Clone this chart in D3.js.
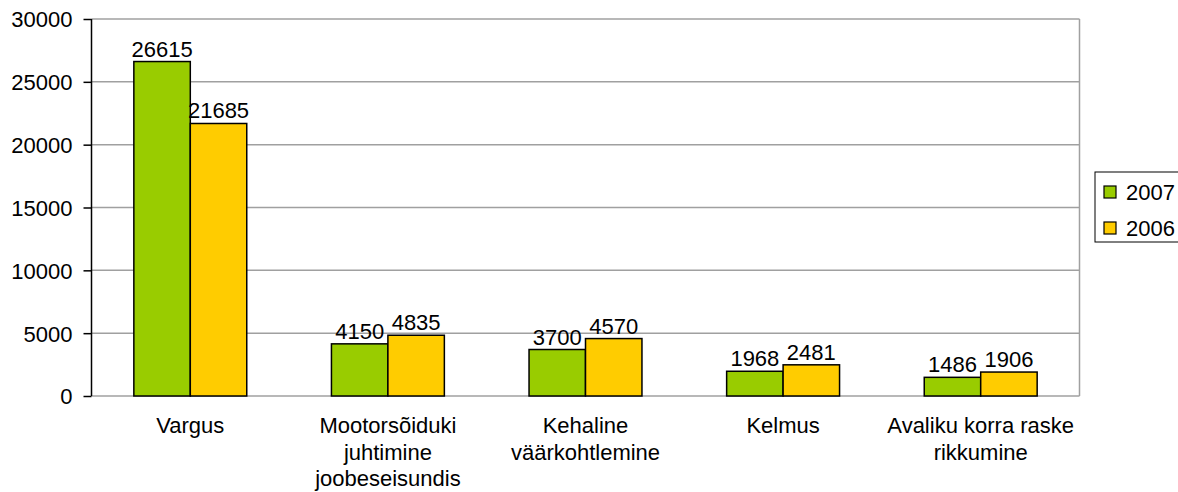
<!DOCTYPE html>
<html>
<head>
<meta charset="utf-8">
<script src="https://cdn.jsdelivr.net/npm/d3@7"></script>
<style>
  body { margin: 0; background: #fff; }
  svg { display: block; }
  text { font-family: "Liberation Sans", Arial, sans-serif; font-size: 22px; fill: #000; }
</style>
</head>
<body>
<svg id="chart" width="1178" height="492"></svg>
<script>
// categories (multi-line labels split on |)
var categories = ['Vargus', 'Mootorsõiduki|juhtimine|joobeseisundis', 'Kehaline|väärkohtlemine', 'Kelmus', 'Avaliku korra raske|rikkumine'];
var seriesNames = ['2007', '2006'];
var values2007 = [26615, 4150, 3700, 1968, 1486];
var values2006 = [21685, 4835, 4570, 2481, 1906];
var yTicks = [0, 5000, 10000, 15000, 20000, 25000, 30000];
var colors = ['#99cc00', '#ffcc00'];

var svg = d3.select('#chart');
var plotLeft = 91.5, plotRight = 1079.5, plotTop = 19, plotBottom = 396;

var x = d3.scaleBand().domain(categories).range([plotLeft, plotRight]);
var inner = d3.scaleBand().domain(seriesNames).range([0, x.bandwidth()]).paddingInner(0).paddingOuter(0.75);
var y = d3.scaleLinear().domain([0, 30000]).range([plotBottom, plotTop]);

//gridlines
svg.append('g')
    .selectAll('line')
    .data(yTicks)
    .join('line')
    .attr('x1', plotLeft).attr('x2', plotRight)
    .attr('y1', function(d) { return y(d); })
    .attr('y2', function(d) { return y(d); })
    .attr('stroke', '#a0a0a0')
    .attr('stroke-width', 1.5);

//right border of plot
svg.append('line')
    .attr('x1', plotRight).attr('x2', plotRight)
    .attr('y1', plotTop).attr('y2', plotBottom)
    .attr('stroke', '#a0a0a0')
    .attr('stroke-width', 1.5);

//bars
var rows = categories.map(function(c, i) {
  return { cat: c, vals: [values2007[i], values2006[i]] };
});

var groups = svg.append('g')
    .selectAll('g')
    .data(rows)
    .join('g')
    .attr('transform', function(d) { return 'translate(' + x(d.cat) + ',0)'; });

groups.selectAll('rect')
    .data(function(d) { return d.vals.map(function(v, j) { return { name: seriesNames[j], v: v, j: j }; }); })
    .join('rect')
    .attr('x', function(d) { return inner(d.name); })
    .attr('width', inner.bandwidth())
    .attr('y', function(d) { return y(d.v); })
    .attr('height', function(d) { return y(0) - y(d.v); })
    .attr('fill', function(d) { return colors[d.j]; })
    .attr('stroke', '#000')
    .attr('stroke-width', 1.5);

groups.selectAll('text.val')
    .data(function(d) { return d.vals.map(function(v, j) { return { name: seriesNames[j], v: v }; }); })
    .join('text')
    .attr('class', 'val')
    .attr('text-anchor', 'middle')
    .attr('x', function(d) { return inner(d.name) + inner.bandwidth() / 2; })
    .attr('y', function(d) { return y(d.v) - 5; })
    .text(function(d) { return d.v; });

//y axis
var yAxis = d3.axisLeft(y).tickValues(yTicks).tickSize(8).tickPadding(11).tickFormat(d3.format('d'));
var ga = svg.append('g')
    .attr('transform', 'translate(' + plotLeft + ',0)')
    .call(yAxis);
ga.select('.domain').attr('stroke', '#000').attr('stroke-width', 1.5).attr('d', 'M0,' + plotTop + 'V' + plotBottom);
ga.selectAll('.tick line').attr('stroke', '#000').attr('stroke-width', 1.5);
ga.selectAll('.tick text')
    .attr('font-size', 22)
    .attr('font-family', '"Liberation Sans", Arial, sans-serif')
    .attr('fill', '#000')
    .attr('dy', '0.36em');

//x category labels
svg.append('g')
    .selectAll('text')
    .data(categories)
    .join('text')
    .attr('text-anchor', 'middle')
    .attr('x', function(d) { return x(d) + x.bandwidth() / 2; })
    .attr('y', 433)
    .each(function(d) {
      var t = d3.select(this);
      d.split('|').forEach(function(line, i) {
        t.append('tspan')
            .attr('x', x(d) + x.bandwidth() / 2)
            .attr('dy', i === 0 ? 0 : 26.5)
            .text(line);
      });
    });

//legend
var legend = svg.append('g').attr('transform', 'translate(1095,172)');
legend.append('rect')
    .attr('x', 0).attr('y', 0)
    .attr('width', 100).attr('height', 70)
    .attr('fill', '#fff')
    .attr('stroke', '#000')
    .attr('stroke-width', 1);

legend.selectAll('g')
    .data(seriesNames)
    .join('g')
    .attr('transform', function(d, i) { return 'translate(0,' + (i * 36) + ')'; })
    .call(function(parent) {
      parent.append('rect')
          .attr('x', 9).attr('y', 14)
          .attr('width', 12).attr('height', 12)
          .attr('fill', function(d, i) { return colors[i]; })
          .attr('stroke', '#000')
          .attr('stroke-width', 1.2);
      parent.append('text')
          .attr('x', 31).attr('y', 28)
          .text(function(d) { return d; });
    });
</script>
</body>
</html>
